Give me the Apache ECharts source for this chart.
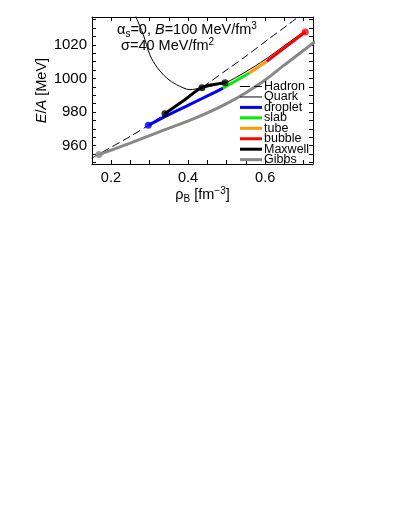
<!DOCTYPE html>
<html>
<head>
<meta charset="utf-8">
<script src="https://cdn.jsdelivr.net/npm/echarts@6/dist/echarts.min.js"></script>
<style>
  html, body { margin: 0; padding: 0; background: #fff; }
  #main { width: 399px; height: 516px; }
</style>
</head>
<body>
<div id="main"></div>
<script>
// curves: density rho_B [fm^-3] and E/A [MeV]
var hadronX = [0.15, 0.169, 0.2, 0.25, 0.297, 0.34, 0.39, 0.436, 0.5, 0.55, 0.613, 0.66, 0.71];
var hadronY = [952.5, 955, 959, 965.5, 972.1, 979, 987, 994.5, 1005, 1013.2, 1024.1, 1032, 1041];
var quarkX = [0.262, 0.265, 0.284, 0.301, 0.32, 0.345, 0.37, 0.405, 0.436, 0.496, 0.55, 0.6, 0.65, 0.7];
var quarkY = [1039, 1036.6, 1026, 1014, 1006.5, 1000.2, 996.3, 993.3, 994.5, 997.4, 1004, 1011.2, 1019.5, 1027.8];
var dropletX = [0.297, 0.34, 0.4, 0.457, 0.491];
var dropletY = [972.1, 977.3, 984.0, 990.3, 994.2];
var slabX = [0.491, 0.52, 0.559];
var slabY = [994.2, 998.0, 1003.2];
var tubeX = [0.559, 0.58, 0.604];
var tubeY = [1003.2, 1006.5, 1010.1];
var bubbleX = [0.604, 0.656, 0.704];
var bubbleY = [1010.1, 1019.2, 1027.6];
var maxwellX = [0.34, 0.39, 0.436, 0.496];
var maxwellY = [979.0, 987.0, 994.5, 997.4];
var gibbsX = [0.169, 0.25, 0.327, 0.379, 0.44, 0.5, 0.55, 0.6, 0.65, 0.73];
var gibbsY = [954.7, 961.5, 968.3, 972.8, 978.5, 985, 991.5, 999, 1008, 1022];

var xTickLabels = [0.2, 0.4, 0.6];
var xMinorTicks = [0.2, 0.25, 0.3, 0.35, 0.4, 0.45, 0.5, 0.55, 0.6, 0.65, 0.7];
var yTickLabels = [960, 980, 1000, 1020];
var yMinorTicks = [950, 955, 960, 965, 970, 975, 980, 985, 990, 995, 1000, 1005, 1010, 1015, 1020, 1025, 1030, 1035];

var legendNames = ['Hadron', 'Quark', 'droplet', 'slab', 'tube', 'bubble', 'Maxwell', 'Gibbs'];

function pts(xs, ys) {
  return xs.map(function (x, i) { return [x, ys[i]]; });
}

var FONT = 'Liberation Sans, Arial, sans-serif';
var myChart = echarts.init(document.getElementById('main'));

var subSup = {
  sub: { fontSize: 10, fontFamily: FONT, lineHeight: 6, verticalAlign: 'bottom' },
  sup: { fontSize: 10, fontFamily: FONT, lineHeight: 6, verticalAlign: 'top' },
  n: { fontSize: 14.5, fontFamily: FONT, lineHeight: 18 },
  i: { fontSize: 14.5, fontFamily: FONT, lineHeight: 18, fontStyle: 'italic' }
};

function xAx(pos, show) {
  return {
    type: 'value', position: pos, min: 0.151, max: 0.724,
    axisLine: { show: true, lineStyle: { color: '#000', width: 1 } },
    axisTick: { show: true, inside: true, length: 4, customValues: xMinorTicks, lineStyle: { color: '#000' } },
    axisLabel: { show: show, customValues: xTickLabels, color: '#000', fontSize: 14.5, fontFamily: FONT, margin: 6,
      formatter: function (v) { return v.toFixed(1); } },
    splitLine: { show: false },
    name: show ? '{n|ρ}{sub|B}{n| [fm}{sup|−3}{n|]}' : '',
    nameLocation: 'middle', nameGap: 22, nameMoveOverlap: false,
    nameTextStyle: { color: '#000', fontSize: 14.5, fontFamily: FONT, rich: subSup }
  };
}
function yAx(pos, show) {
  return {
    type: 'value', position: pos, min: 949.1, max: 1036.5,
    axisLine: { show: true, lineStyle: { color: '#000', width: 1 } },
    axisTick: { show: true, inside: true, length: 4, customValues: yMinorTicks, lineStyle: { color: '#000' } },
    axisLabel: { show: show, customValues: yTickLabels, color: '#000', fontSize: 15, fontFamily: FONT, margin: 5,
      formatter: function (v) { return String(Math.round(v)); } },
    splitLine: { show: false },
    name: show ? '{i|E}/{i|A} [MeV]' : '',
    nameLocation: 'middle', nameGap: 41, nameMoveOverlap: false,
    nameTextStyle: { color: '#000', fontSize: 14.5, fontFamily: FONT, rich: subSup }
  };
}

function line(name, xs, ys, color, width, dash) {
  return {
    name: name, type: 'line', data: pts(xs, ys), symbol: 'none', smooth: 0.3,
    lineStyle: { color: color, width: width, type: dash || 'solid' },
    silent: true, animation: false
  };
}
function dots(xs, ys, color) {
  return {
    type: 'scatter', data: pts(xs, ys), symbol: 'circle', symbolSize: 7,
    itemStyle: { color: color }, silent: true, animation: false, z: 5
  };
}

var legendColors = ['#000', '#333', '#0000ff', '#00ee00', '#ff9900', '#ff0000', '#000', '#888'];
var legendWidths = [1.2, 1.2, 3, 3, 3, 3, 3, 3];
var legendGraphics = [];
legendNames.forEach(function (n, i) {
  var y = 86.5 + i * 10.45;
  legendGraphics.push({
    type: 'line', shape: { x1: 240, y1: y, x2: 262, y2: y },
    style: { stroke: legendColors[i], lineWidth: legendWidths[i], lineDash: i === 0 ? [10, 4] : null }, z: 10
  });
  legendGraphics.push({
    type: 'text', x: 264, y: y,
    style: { text: n, fill: '#000', font: '12.5px ' + FONT, textVerticalAlign: 'middle' }, z: 10
  });
});

option = {
  animation: false,
  backgroundColor: '#fff',
  grid: { left: 92, right: 86, top: 17, bottom: 352 },
  xAxis: [xAx('bottom', true), xAx('top', false)],
  yAxis: [yAx('left', true), yAx('right', false)],
  series: [
    line('Hadron', hadronX, hadronY, '#000', 1, [8, 4]),
    line('Quark', quarkX, quarkY, '#000', 1),
    line('Gibbs', gibbsX, gibbsY, '#888', 3),
    line('droplet', dropletX, dropletY, '#0000ff', 3),
    line('slab', slabX, slabY, '#00ee00', 3),
    line('tube', tubeX, tubeY, '#ff9900', 3),
    line('bubble', bubbleX, bubbleY, '#ff0000', 3),
    line('Maxwell', maxwellX, maxwellY, '#000', 3),
    dots([gibbsX[0]], [gibbsY[0]], '#888'),
    dots([dropletX[0]], [dropletY[0]], '#0000ff'),
    dots([bubbleX[bubbleX.length - 1]], [bubbleY[bubbleY.length - 1]], '#ff0000'),
    dots([maxwellX[0], maxwellX[2], maxwellX[3]], [maxwellY[0], maxwellY[2], maxwellY[3]], '#000')
  ],
  graphic: legendGraphics.concat([
    {
      type: 'text', x: 117, y: 21, z: 10,
      style: {
        text: '{n|α}{sub|s}{n|=0, }{i|B}{n|=100 MeV/fm}{sup|3}',
        fill: '#000', rich: subSup
      }
    },
    {
      type: 'text', x: 121, y: 37, z: 10,
      style: {
        text: '{n|σ=40 MeV/fm}{sup|2}',
        fill: '#000', rich: subSup
      }
    }
  ])
};
myChart.setOption(option);
</script>
</body>
</html>
